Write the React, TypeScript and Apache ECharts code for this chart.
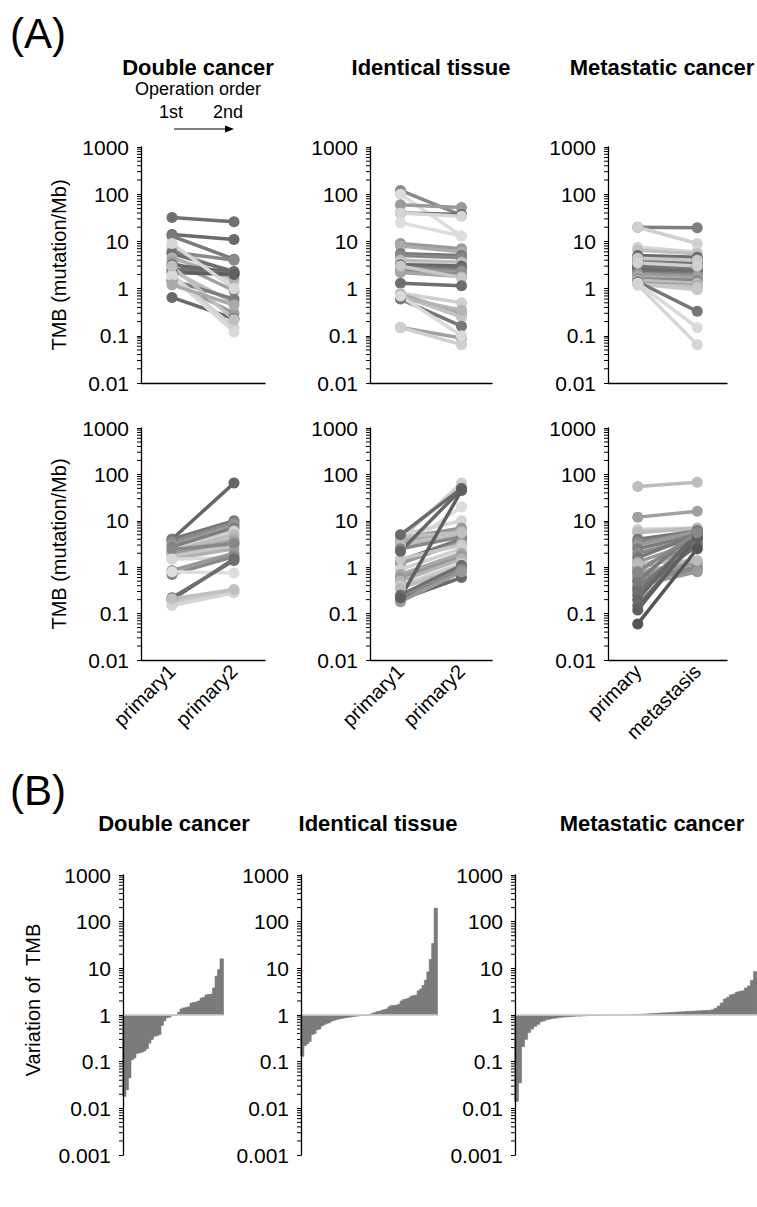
import React, { useEffect, useRef } from "react";
import * as echarts from "echarts";

const FONT = '"Liberation Sans", Arial, Helvetica, sans-serif';

const pairCategories = ["primary1", "primary2"];
const metCategories = ["primary", "metastasis"];
const panelTitles = ["Double cancer", "Identical tissue", "Metastatic cancer"];
const tmbAxisName = "TMB (mutation/Mb)";
const variationAxisName = "Variation of  TMB";
const minorMultipliers = [2, 3, 4, 5, 6, 7, 8, 9];
const decadesA = [0.01, 0.1, 1, 10, 100];
const decadesB = [0.001, 0.01, 0.1, 1, 10, 100];

// (A) top row: TMB decreased (first -> second)
const doubleDown = [
  [32, 26], [14, 11], [13, 4.2], [8, 1.3], [7, 2.0], [6, 4.0], [5.5, 2.3], [4.5, 1.6],
  [3.8, 0.9], [3.2, 2.2], [2.6, 2.1], [2.4, 0.5], [2.2, 2.0], [1.5, 0.6], [1.4, 0.3],
  [0.65, 0.23], [2.0, 0.15], [1.8, 0.12], [3.0, 0.22], [9.0, 1.0], [1.2, 0.45],
];
const doubleDownColors = [
  "#707070", "#6a6a6a", "#7a7a7a", "#d5d5d5", "#c8c8c8", "#8a8a8a", "#6e6e6e", "#b0b0b0",
  "#a0a0a0", "#666666", "#707070", "#bdbdbd", "#5f5f5f", "#7d7d7d", "#9a9a9a",
  "#6a6a6a", "#d0d0d0", "#dadada", "#c0c0c0", "#d8d8d8", "#aaaaaa",
];
const identicalDown = [
  [120, 36], [100, 13], [60, 52], [40, 37], [40, 34], [25, 13], [9, 7], [8, 6], [5.5, 5],
  [5, 4.5], [4, 3.6], [3.5, 3.2], [3.2, 3.0], [3.0, 2.7], [2.8, 2.4], [2.5, 2.2], [2.3, 2.0],
  [2.2, 1.8], [3.0, 1.7], [1.3, 1.15], [0.8, 0.5], [0.75, 0.3], [0.7, 0.25], [0.65, 0.35],
  [0.6, 0.16], [0.15, 0.09], [0.15, 0.065], [0.7, 0.1],
];
const identicalDownColors = [
  "#8a8a8a", "#dcdcdc", "#9a9a9a", "#666666", "#d5d5d5", "#dddddd", "#999999", "#aaaaaa", "#777777",
  "#888888", "#bbbbbb", "#cccccc", "#666666", "#6e6e6e", "#888888", "#999999", "#8c8c8c",
  "#a5a5a5", "#c8c8c8", "#6e6e6e", "#cfcfcf", "#a8a8a8", "#c4c4c4", "#b5b5b5",
  "#777777", "#a0a0a0", "#d0d0d0", "#dadada",
];
const metastaticDown = [
  [20, 19.5], [20, 9], [7.5, 6], [6.5, 5.5], [5, 4.6], [4.6, 4.3], [4.2, 4.0], [3.9, 3.7],
  [3.6, 3.4], [3.3, 3.2], [3.1, 2.9], [2.9, 2.7], [2.7, 2.5], [2.5, 2.3], [2.3, 2.15],
  [2.1, 2.0], [2.0, 1.8], [4.4, 4.0], [3.5, 3.0], [1.8, 1.6], [1.6, 1.5], [1.5, 1.3],
  [1.3, 1.15], [1.2, 1.1], [1.25, 0.95], [1.4, 0.33], [1.3, 0.15], [1.2, 0.065],
];
const metastaticDownColors = [
  "#7f7f7f", "#d0d0d0", "#d5d5d5", "#c0c0c0", "#6a6a6a", "#707070", "#666666", "#6e6e6e",
  "#777777", "#6a6a6a", "#5f5f5f", "#6e6e6e", "#777777", "#6a6a6a", "#707070",
  "#888888", "#999999", "#c8c8c8", "#d0d0d0", "#aaaaaa", "#888888", "#bbbbbb",
  "#9a9a9a", "#c4c4c4", "#c8c8c8", "#777777", "#dadada", "#d5d5d5",
];

// (A) bottom row: TMB increased
const doubleUp = [
  [4, 65], [4, 10], [3.5, 9], [3, 8], [2.7, 7], [2.3, 6], [2.2, 5], [2, 4], [1.9, 3.5],
  [1.7, 3], [1.5, 2.5], [2.4, 3.2], [1.5, 1.6], [0.85, 2.0], [0.7, 1.7], [0.8, 0.75],
  [0.2, 1.5], [0.22, 1.4], [0.18, 0.3], [0.15, 0.28], [0.21, 0.33],
];
const doubleUpColors = [
  "#666666", "#777777", "#8a8a8a", "#999999", "#7d7d7d", "#d0d0d0", "#bbbbbb", "#aaaaaa", "#9a9a9a",
  "#c8c8c8", "#b0b0b0", "#888888", "#d8d8d8", "#999999", "#888888", "#dddddd",
  "#666666", "#6e6e6e", "#c8c8c8", "#d5d5d5", "#c0c0c0",
];
const identicalUp = [
  [4, 65], [2.4, 20], [5, 10], [4.2, 7], [3.6, 6], [3, 5], [2.5, 4.5], [1.4, 4], [1.2, 3.5],
  [1.5, 3], [0.9, 2.5], [0.7, 2], [0.6, 1.7], [0.5, 1.5], [0.4, 1.2], [0.35, 1.0], [0.25, 1.1],
  [0.22, 0.9], [0.2, 0.6], [0.18, 0.8], [4.6, 5.5], [5, 50], [2.2, 48], [0.22, 45],
];
const identicalUpColors = [
  "#d0d0d0", "#dcdcdc", "#d5d5d5", "#999999", "#aaaaaa", "#bbbbbb", "#888888", "#777777", "#999999",
  "#c8c8c8", "#d0d0d0", "#aaaaaa", "#999999", "#b5b5b5", "#cccccc", "#bbbbbb", "#6e6e6e",
  "#888888", "#6a6a6a", "#999999", "#c0c0c0", "#6a6a6a", "#666666", "#5f5f5f",
];
const metastaticUp = [
  [55, 68], [12, 16], [6.5, 7], [6, 6.5], [5.5, 7], [4, 6], [3.5, 5.5], [3, 6], [2.5, 5],
  [2, 4.5], [1.6, 5], [1.3, 3.5], [1.0, 3], [0.9, 2.5], [0.8, 1.3], [0.7, 1.2], [0.6, 1.0],
  [0.5, 0.9], [0.4, 0.8], [1.2, 1.4], [0.35, 4], [0.3, 3], [0.25, 5], [0.2, 6], [0.15, 4],
  [0.12, 4.5], [0.5, 6.2], [0.8, 5.5], [0.06, 2.5],
];
const metastaticUpColors = [
  "#bdbdbd", "#a0a0a0", "#d0d0d0", "#c8c8c8", "#bbbbbb", "#777777", "#888888", "#999999", "#7d7d7d",
  "#8a8a8a", "#777777", "#999999", "#888888", "#a0a0a0", "#aaaaaa", "#999999", "#888888",
  "#8a8a8a", "#999999", "#bbbbbb", "#777777", "#6e6e6e", "#707070", "#666666", "#6a6a6a",
  "#5f5f5f", "#7a7a7a", "#888888", "#555555",
];

// (B) sorted variation of TMB (second / first)
const variationDouble = [
  0.018, 0.025, 0.045, 0.11, 0.12, 0.15, 0.155, 0.16, 0.17, 0.19,
  0.25, 0.3, 0.35, 0.36, 0.38, 0.6, 0.75, 0.88, 0.9, 0.97,
  0.99, 1.02, 1.15, 1.35, 1.42, 1.45, 1.5, 1.8, 1.85, 1.9,
  2.0, 2.3, 2.4, 2.7, 2.75, 2.8, 3.8, 6.8, 9.4, 16,
];
const variationIdentical = [
  0.13, 0.22, 0.24, 0.27, 0.38, 0.4, 0.48, 0.5, 0.58, 0.62,
  0.66, 0.68, 0.74, 0.77, 0.8, 0.82, 0.84, 0.86, 0.88, 0.9,
  0.91, 0.93, 0.94, 0.96, 0.97, 0.98, 0.99, 1.0, 1.02, 1.08,
  1.12, 1.18, 1.2, 1.26, 1.3, 1.35, 1.5, 1.6, 1.6, 1.62,
  1.7, 2.0, 2.15, 2.2, 2.3, 2.5, 2.6, 2.65, 3.3, 3.6,
  4.3, 5.6, 8.4, 15.6, 34, 195,
];
const variationMetastatic = [
  0.014, 0.035, 0.21, 0.3, 0.42, 0.5, 0.57, 0.63, 0.72, 0.75,
  0.8, 0.82, 0.85, 0.86, 0.88, 0.9, 0.91, 0.92, 0.93, 0.94,
  0.95, 0.95, 0.96, 0.97, 0.98, 0.98, 0.99, 0.99, 0.995, 0.997,
  0.998, 0.999, 1.0, 1.0, 1.001, 1.002, 1.004, 1.006, 1.01, 1.015,
  1.02, 1.03, 1.04, 1.05, 1.06, 1.07, 1.08, 1.09, 1.1, 1.11,
  1.12, 1.13, 1.14, 1.15, 1.16, 1.17, 1.18, 1.19, 1.2, 1.21,
  1.22, 1.23, 1.24, 1.25, 1.26, 1.3, 1.4, 1.55, 1.8, 2.2,
  2.4, 2.7, 2.8, 3.1, 3.2, 3.3, 3.8, 4.2, 5.5, 8.5,
];

const BAR_COLOR = "#7b7b7b";

function logLabel(v: number): string {
  if (v >= 1) return String(Math.round(v));
  return String(parseFloat(v.toPrecision(1)));
}

function buildOption() {
  const grid: any[] = [];
  const xAxis: any[] = [];
  const yAxis: any[] = [];
  const series: any[] = [];

  const yAxisBase = (gi: number, min: number, max: number, split: number) => ({
    type: "log",
    logBase: 10,
    gridIndex: gi,
    min,
    max,
    splitNumber: split,
    axisLine: { show: true, lineStyle: { color: "#000", width: 1.3 } },
    axisTick: { show: true, length: 4, lineStyle: { color: "#000", width: 1 } },
    axisLabel: { fontSize: 21, color: "#000", fontFamily: FONT, margin: 12, formatter: logLabel },
    splitLine: { show: false },
    z: 6,
  });

  const addMinorTicks = (gi: number, decades: number[]) => {
    const vals: number[][] = [];
    decades.forEach((d) => minorMultipliers.forEach((m) => vals.push([0, d * m])));
    series.push({
      type: "custom",
      xAxisIndex: gi,
      yAxisIndex: gi,
      silent: true,
      clip: false,
      data: vals,
      encode: { x: 0, y: 1 },
      renderItem: (params: any, api: any) => {
        const pt = api.coord([0, api.value(1)]);
        const x0 = params.coordSys.x;
        return {
          type: "line",
          shape: { x1: x0 - 4, y1: pt[1], x2: x0, y2: pt[1] },
          style: { stroke: "#000", lineWidth: 1 },
        };
      },
    });
  };

  const addPairPanel = (
    left: number, top: number, width: number, height: number,
    cats: string[], pairs: number[][], colors: string[], showLabels: boolean,
  ) => {
    const gi = grid.length;
    grid.push({ left, top, width, height, containLabel: false });
    xAxis.push({
      type: "category",
      gridIndex: gi,
      data: cats,
      boundaryGap: true,
      axisLine: { show: true, lineStyle: { color: "#000", width: 1.3 } },
      axisTick: { show: false },
      axisLabel: {
        show: showLabels, rotate: 45, fontSize: 20, color: "#000", fontFamily: FONT, margin: 8, interval: 0,
      },
      splitLine: { show: false },
    });
    yAxis.push(yAxisBase(gi, 0.01, 1000, 5));
    addMinorTicks(gi, decadesA);
    pairs.forEach((p, i) => {
      series.push({
        type: "line",
        xAxisIndex: gi,
        yAxisIndex: gi,
        data: p,
        symbol: "circle",
        symbolSize: 11,
        showSymbol: true,
        silent: true,
        clip: false,
        lineStyle: { color: colors[i], width: 3.5 },
        itemStyle: { color: colors[i] },
        emphasis: { disabled: true },
        z: 3,
      });
    });
  };

  const addBarPanel = (left: number, top: number, width: number, height: number, values: number[]) => {
    const gi = grid.length;
    grid.push({ left, top, width, height, containLabel: false });
    xAxis.push({
      type: "category",
      gridIndex: gi,
      data: values.map((_, i) => String(i + 1)),
      boundaryGap: true,
      axisLine: { show: false },
      axisTick: { show: false },
      axisLabel: { show: false },
      splitLine: { show: false },
    });
    yAxis.push(yAxisBase(gi, 0.001, 1000, 6));
    addMinorTicks(gi, decadesB);
    // bars from the baseline value 1, drawn through the axes' scales
    series.push({
      type: "custom",
      xAxisIndex: gi,
      yAxisIndex: gi,
      silent: true,
      clip: false,
      data: values.map((v, i) => [i, v]),
      encode: { x: 0, y: 1 },
      renderItem: (params: any, api: any) => {
        const idx = api.value(0);
        const topPt = api.coord([idx, api.value(1)]);
        const basePt = api.coord([idx, 1]);
        const w = api.size([1, 0])[0];
        const y0 = Math.min(topPt[1], basePt[1]);
        const h = Math.abs(basePt[1] - topPt[1]);
        return {
          type: "rect",
          shape: { x: topPt[0] - w / 2 - 0.5, y: y0, width: w + 1, height: h },
          style: { fill: BAR_COLOR, stroke: BAR_COLOR, lineWidth: 0.6 },
        };
      },
      z: 2,
    });
    // light baseline at 1
    series.push({
      type: "line",
      xAxisIndex: gi,
      yAxisIndex: gi,
      data: [],
      silent: true,
      markLine: {
        silent: true,
        symbol: "none",
        label: { show: false },
        lineStyle: { color: "#d4d4d4", width: 1.5, type: "solid" },
        data: [{ yAxis: 1 }],
        z: 5,
      },
    });
  };

  // Panel A
  addPairPanel(141, 147, 124, 236, pairCategories, doubleDown, doubleDownColors, false);
  addPairPanel(370, 147, 122, 236, pairCategories, identicalDown, identicalDownColors, false);
  addPairPanel(608, 147, 119, 236, metCategories, metastaticDown, metastaticDownColors, false);
  addPairPanel(141, 428, 124, 232, pairCategories, doubleUp, doubleUpColors, true);
  addPairPanel(370, 428, 122, 232, pairCategories, identicalUp, identicalUpColors, true);
  addPairPanel(608, 428, 119, 232, metCategories, metastaticUp, metastaticUpColors, true);

  // Panel B
  addBarPanel(123, 875, 100, 280, variationDouble);
  addBarPanel(301, 875, 136, 280, variationIdentical);
  addBarPanel(515, 875, 242, 280, variationMetastatic);

  const txt = (text: string, x: number, y: number, size: number, bold = false, rotation = 0, align = "center") => ({
    type: "text",
    x,
    y,
    rotation,
    silent: true,
    style: {
      text,
      font: `${bold ? "bold " : ""}${size}px ${FONT}`,
      fill: "#000",
      align,
      verticalAlign: "middle",
      textAlign: align,
      textVerticalAlign: "middle",
    },
  });

  const graphic: any[] = [
    txt("(A)", 10, 33, 42, false, 0, "left"),
    txt("(B)", 10, 790, 42, false, 0, "left"),
    txt(panelTitles[0], 198, 67, 22, true),
    txt(panelTitles[1], 431, 67, 22, true),
    txt(panelTitles[2], 662, 67, 22, true),
    txt("Operation order", 198, 89, 18),
    txt("1st", 171, 112, 18),
    txt("2nd", 228, 112, 18),
    {
      type: "line",
      silent: true,
      shape: { x1: 174, y1: 129, x2: 228, y2: 129 },
      style: { stroke: "#000", lineWidth: 1.2 },
    },
    {
      type: "polygon",
      silent: true,
      shape: { points: [[225, 125.5], [234, 129], [225, 132.5]] },
      style: { fill: "#000" },
    },
    txt(tmbAxisName, 59, 265, 20, false, Math.PI / 2),
    txt(tmbAxisName, 59, 544, 20, false, Math.PI / 2),
    txt(panelTitles[0], 174, 823, 22, true),
    txt(panelTitles[1], 378, 823, 22, true),
    txt(panelTitles[2], 652, 823, 22, true),
    txt(variationAxisName, 33, 1000, 20, false, Math.PI / 2),
  ];

  return {
    animation: false,
    backgroundColor: "#fff",
    textStyle: { fontFamily: FONT },
    grid,
    xAxis,
    yAxis,
    series,
    graphic,
  };
}

export default function App() {
  const ref = useRef<HTMLDivElement>(null);
  useEffect(() => {
    if (!ref.current) return;
    const chart = echarts.init(ref.current, null, { renderer: "svg" });
    chart.setOption(buildOption() as any);
    return () => chart.dispose();
  }, []);
  return (
    <div
      ref={ref}
      style={{ position: "absolute", left: 0, top: 0, width: 757, height: 1207, background: "#fff" }}
    />
  );
}
